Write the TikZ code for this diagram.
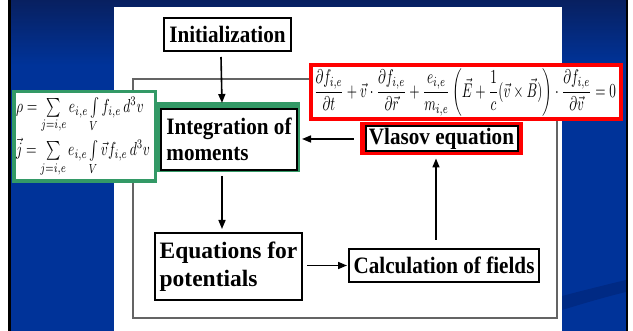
\documentclass[tikz,border=0pt]{standalone}
\usepackage{amsmath}
\usepackage{fontspec}
\setmainfont{Liberation Serif}
\newfontfamily\boxfont[FakeStretch=0.9]{Liberation Serif}
\usetikzlibrary{arrows.meta,calc}
\definecolor{bgblue}{RGB}{0,51,153}
\definecolor{topblue}{RGB}{8,32,96}
\definecolor{swblue}{RGB}{0,42,132}
\definecolor{frgreen}{RGB}{51,153,102}
\definecolor{frred}{RGB}{255,0,0}
\definecolor{framegray}{RGB}{100,100,100}
\tikzset{
 stepbox/.style={draw=black, line width=2pt, fill=white, inner sep=0pt,
   font=\boxfont\bfseries\fontsize{23.5}{26}\selectfont},
 widebox/.style={stepbox, font=\rmfamily\bfseries\fontsize{23.5}{28}\selectfont},
 arr/.style={line width=1.6pt, -{Triangle[length=9pt,width=7pt]}},
 formbox/.style={inner sep=0pt},
}
\begin{document}
\begin{tikzpicture}[x=1pt,y=-1pt]
\useasboundingbox (0,0) rectangle (633,331);
% background
\fill[white] (0,0) rectangle (633,331);
\fill[bgblue] (11,0) rectangle (626,331);
\shade[top color=topblue,bottom color=bgblue] (11,0) rectangle (626,65);
\fill[swblue] (562,296) .. controls (585,290) and (605,285) .. (626,280)
  -- (626,292) .. controls (605,297) and (585,303) .. (562,310) -- cycle;
\fill[black] (8,0) rectangle (11,331);
\fill[black] (626,0) rectangle (628,331);
% white panel
\fill[white] (114,7) rectangle (562,331);
% gray frame
\draw[framegray, line width=1.3pt] (309,79) -- (133,79) -- (133,318) -- (557,318) -- (557,121);
% nodes
\node[stepbox, minimum width=127pt, minimum height=33pt] (init) at (227.5,34.5) {Initialization};
\fill[frgreen] (153,102) rectangle (300,172);
\node[stepbox, anchor=north west, align=left, minimum width=136pt,
  minimum height=61pt] (integ) at (160,108) {Integration of\\moments};
\fill[frred] (360,122) rectangle (523,155);
\node[stepbox, minimum width=152pt, minimum height=25pt] (vl) at (441.5,139) {Vlasov equation};
\draw[frred, line width=4pt, fill=white] (311,65) rectangle (621,119);
\node[formbox] (veq) at (465,92.5) {\resizebox*{302pt}{48pt}{$\displaystyle
  \frac{\partial f_{i,e}}{\partial t}+\vec{v}\cdot\frac{\partial f_{i,e}}{\partial\vec{r}}
  +\frac{e_{i,e}}{m_{i,e}}\left(\vec{E}+\frac{1}{c}(\vec{v}\times\vec{B})\right)\cdot
  \frac{\partial f_{i,e}}{\partial\vec{v}}=0$}};
\draw[frgreen, line width=3.5pt, fill=white] (13.75,91.75) rectangle (155.25,181.25);
\node[formbox] (meq) at (83,136.5) {\resizebox*{134pt}{80pt}{$\begin{array}{@{}l@{}}
  \rho=\sum\limits_{j=i,e}e_{i,e}\int\limits_V f_{i,e}\,d^3v\\[10pt]
  \vec{j}=\sum\limits_{j=i,e}e_{i,e}\int\limits_V \vec{v}f_{i,e}\,d^3v
  \end{array}$}};
\node[widebox, anchor=north west, align=left, minimum width=147pt,
  minimum height=67pt] (eq) at (154,232) {Equations for\\potentials};
\node[stepbox, minimum width=190pt, minimum height=33pt] (calc) at (444,265.5) {Calculation of fields};
% connectors
\draw[arr] ([xshift=-6.5pt,yshift=-5pt]init.south) -- ([xshift=-7pt,yshift=5pt]integ.north);
\draw[arr] ([xshift=-7pt,yshift=-5pt]integ.south) -- ([xshift=-6.5pt,yshift=3pt]eq.north);
\draw[arr] ([xshift=4pt]eq.east |- calc.west) -- ([xshift=-1pt]calc.west);
\draw[arr] ([xshift=-8pt,yshift=8pt]calc.north) -- ([xshift=-5.5pt,yshift=-6pt]vl.south);
\draw[arr] ([xshift=-11pt]vl.west) -- ([xshift=4pt]integ.east |- vl.west);
\end{tikzpicture}
\end{document}
